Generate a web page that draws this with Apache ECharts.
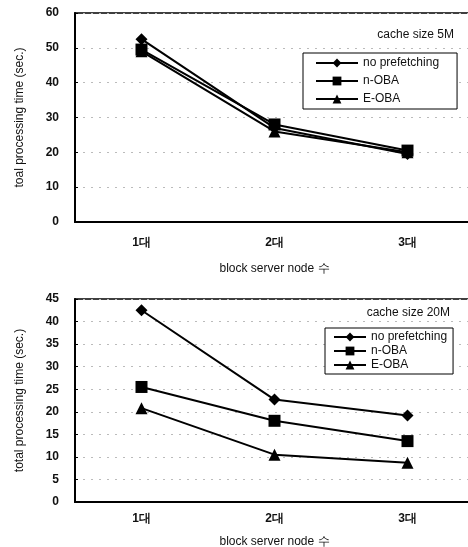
<!DOCTYPE html>
<html>
<head>
<meta charset="utf-8">
<script src="https://cdn.jsdelivr.net/npm/echarts@6/dist/echarts.min.js"></script>
<style>
  html, body { margin: 0; padding: 0; background: #fff; }
  #main { width: 468px; height: 547px; }
</style>
</head>
<body>
<div id="main"></div>
<script>
// categories and values
const categories = ['1대', '2대', '3대'];
const seriesNames = ['no prefetching', 'n-OBA', 'E-OBA'];
const symbols = ['diamond', 'rect', 'triangle'];
const symbolSizes = [12, 12, 12];

const noPrefetch5M = [52.5, 27, 19.5];
const nOBA5M = [49.5, 28, 20.5];
const eOBA5M = [49, 26, 20];

const noPrefetch20M = [42.5, 22.7, 19.2];
const nOBA20M = [25.5, 18, 13.5];
const eOBA20M = [20.8, 10.5, 8.7];

const yTicks5M = { min: 0, max: 60, interval: 10 };
const yTicks20M = { min: 0, max: 45, interval: 5 };

const FONT = '"Liberation Sans", Arial, sans-serif';

function xAxisFor(gridIndex, labelMargin, nameGap) {
  return {
    type: 'category',
    gridIndex: gridIndex,
    data: categories,
    boundaryGap: true,
    name: 'block server node 수',
    nameLocation: 'middle',
    nameGap: nameGap,
    nameTextStyle: { fontFamily: FONT, fontSize: 12, color: '#111' },
    axisLine: { lineStyle: { color: '#000', width: 2 } },
    axisTick: { inside: true, length: 4, lineStyle: { color: '#000' } },
    axisLabel: { fontFamily: FONT, fontSize: 12, fontWeight: 'bold', color: '#111', margin: labelMargin }
  };
}

function yAxisFor(gridIndex, ticks, name) {
  return {
    type: 'value',
    gridIndex: gridIndex,
    min: ticks.min,
    max: ticks.max,
    interval: ticks.interval,
    name: name,
    nameLocation: 'middle',
    nameGap: 49,
    nameTextStyle: { fontFamily: FONT, fontSize: 12, color: '#111' },
    axisLine: { show: true, lineStyle: { color: '#000', width: 2 } },
    axisTick: { show: true, inside: true, length: 3, lineStyle: { color: '#000' } },
    axisLabel: { fontFamily: FONT, fontSize: 12, fontWeight: 'bold', color: '#111', margin: 16 },
    splitLine: { show: true, lineStyle: { color: '#bbb', type: [2, 6], width: 1 } }
  };
}

function lineSeries(idx, data, gridIdx) {
  return {
    name: seriesNames[idx],
    type: 'line',
    xAxisIndex: gridIdx,
    yAxisIndex: gridIdx,
    data: data,
    symbol: symbols[idx],
    symbolSize: symbolSizes[idx],
    showAllSymbol: true,
    lineStyle: { color: '#000', width: 2 },
    itemStyle: { color: '#000' },
    emphasis: { disabled: true }
  };
}

function legendFor(left, top, gap, lineWidth, padding) {
  return {
    data: seriesNames,
    orient: 'vertical',
    left: left,
    top: top,
    itemGap: gap,
    itemWidth: lineWidth,
    itemHeight: 11,
    padding: padding,
    borderColor: '#000',
    borderWidth: 1,
    backgroundColor: '#fff',
    textStyle: { fontFamily: FONT, fontSize: 12, color: '#111' }
  };
}

const chart = echarts.init(document.getElementById('main'));
chart.setOption({
  backgroundColor: '#fff',
  animation: false,
  title: [
    { text: 'cache size 5M', right: 9, top: 24, textStyle: { fontFamily: FONT, fontSize: 12, fontWeight: 'normal', color: '#111' } },
    { text: 'cache size 20M', right: 13, top: 302, textStyle: { fontFamily: FONT, fontSize: 12, fontWeight: 'normal', color: '#111' } }
  ],
  legend: [
    legendFor(303, 53, 6, 42, [4, 18, 4, 12]),
    legendFor(325, 328, 2, 32, [3, 6, 3, 8])
  ],
  grid: [
    { left: 75, top: 13, width: 399, height: 209, show: true, borderColor: '#000', borderWidth: 1.5, outerBoundsMode: 'none' },
    { left: 75, top: 299, width: 399, height: 203, show: true, borderColor: '#000', borderWidth: 1.5, outerBoundsMode: 'none' }
  ],
  xAxis: [xAxisFor(0, 15, 41), xAxisFor(1, 11, 34)],
  yAxis: [
    yAxisFor(0, yTicks5M, 'toal processing time (sec.)'),
    yAxisFor(1, yTicks20M, 'total processing time (sec.)')
  ],
  series: [
    lineSeries(0, noPrefetch5M, 0),
    lineSeries(1, nOBA5M, 0),
    lineSeries(2, eOBA5M, 0),
    lineSeries(0, noPrefetch20M, 1),
    lineSeries(1, nOBA20M, 1),
    lineSeries(2, eOBA20M, 1)
  ]
});
</script>
</body>
</html>
